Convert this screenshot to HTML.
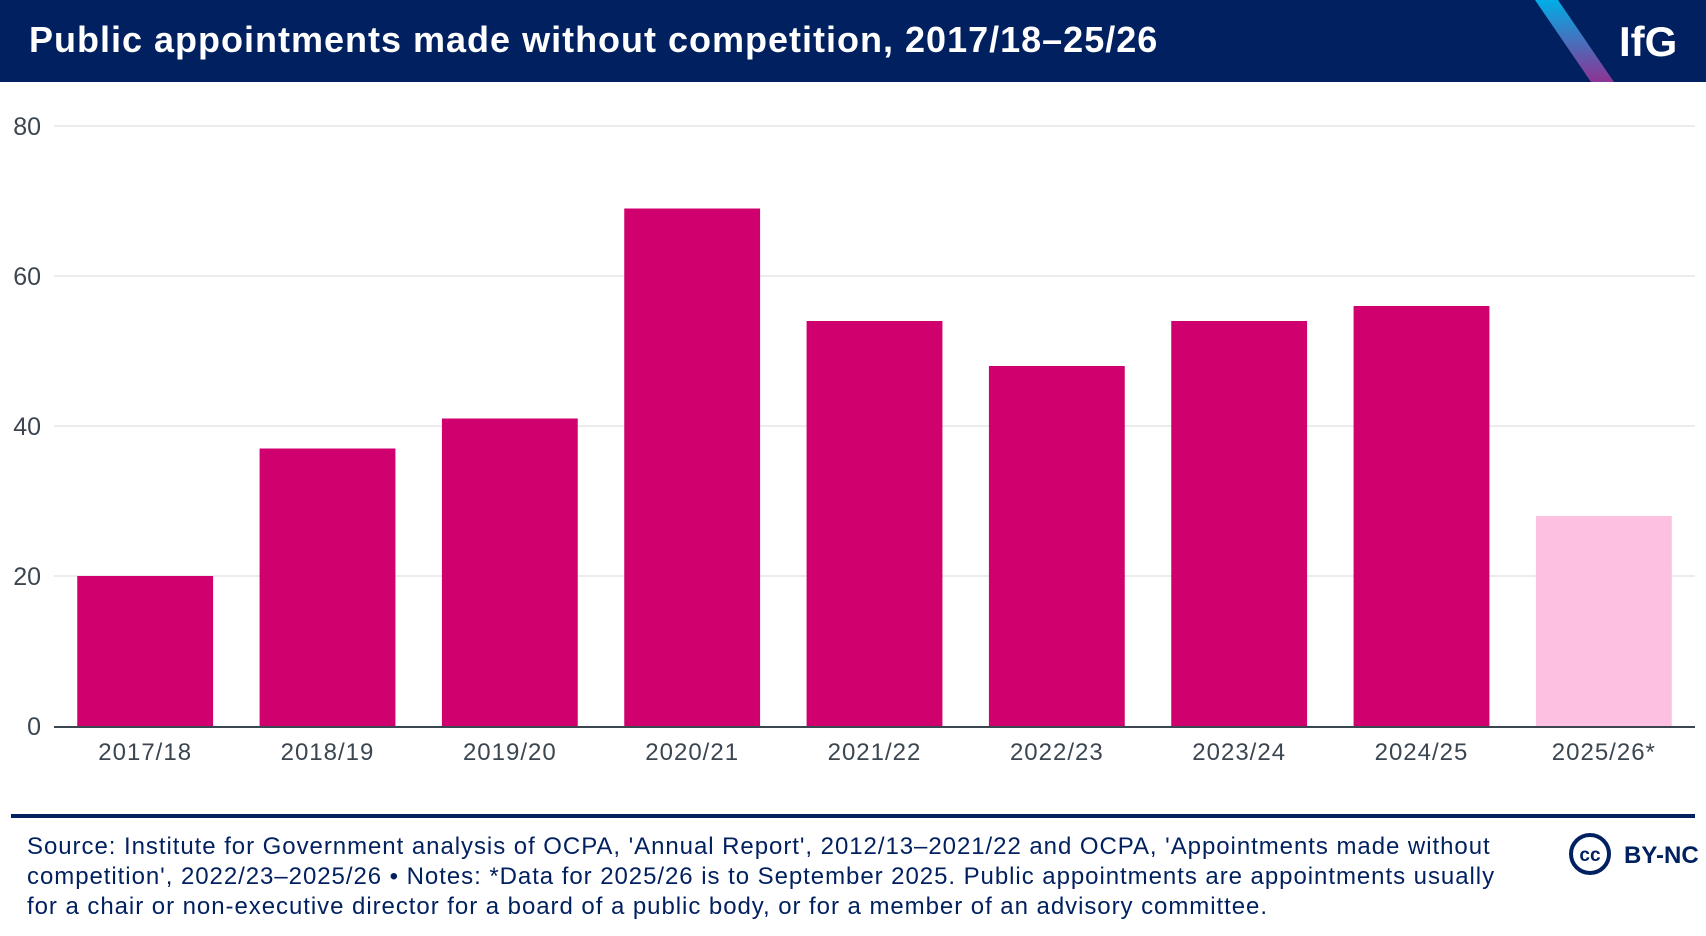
<!DOCTYPE html>
<html><head><meta charset="utf-8"><style>
html,body{margin:0;padding:0;background:#fff;}
body{width:1706px;height:936px;position:relative;overflow:hidden;font-family:"Liberation Sans",sans-serif;}
#header{position:absolute;left:0;top:0;width:1706px;height:82px;background:#00205f;overflow:hidden;}
#title{position:absolute;left:29px;top:19px;color:#fff;font-weight:bold;font-size:36px;white-space:nowrap;letter-spacing:1px;}
#logo{position:absolute;left:1619px;top:18px;color:#fff;font-weight:bold;font-size:42px;}
#footer{position:absolute;left:27px;top:832px;width:1560px;color:#00205f;font-size:24px;line-height:30px;white-space:nowrap;letter-spacing:0.95px;}
#rule{position:absolute;left:11px;top:814px;width:1684px;height:4px;background:#00205f;}
#cc{position:absolute;left:1568px;top:832px;}
</style></head><body>
<div id="header">
<svg width="1706" height="82" style="position:absolute;left:0;top:0">
<defs><linearGradient id="g" x1="0" y1="0" x2="0" y2="1"><stop offset="0" stop-color="#00aee6"/><stop offset="1" stop-color="#8e3394"/></linearGradient></defs>
<polygon points="1535,0 1558,0 1614,82 1591,82" fill="url(#g)"/>
</svg>
<div id="title">Public appointments made without competition, 2017/18–25/26</div>
<div id="logo">IfG</div>
</div>
<svg id="chart" width="1706" height="800" style="position:absolute;left:0;top:0"></svg>
<div id="rule"></div>
<div id="footer">Source: Institute for Government analysis of OCPA, 'Annual Report', 2012/13–2021/22 and OCPA, 'Appointments made without<br>competition', 2022/23–2025/26 • Notes: *Data for 2025/26 is to September 2025. Public appointments are appointments usually<br>for a chair or non-executive director for a board of a public body, or for a member of an advisory committee.</div>
<div id="cc">
<svg width="140" height="46"><circle cx="22" cy="22" r="19" fill="none" stroke="#00205f" stroke-width="4"/>
<text x="22" y="29" text-anchor="middle" font-family="Liberation Sans" font-weight="bold" font-size="19" fill="#00205f">cc</text>
<text x="56" y="31" font-family="Liberation Sans" font-weight="bold" font-size="24" fill="#00205f">BY-NC</text></svg>
</div>
<script>
const categories=["2017/18","2018/19","2019/20","2020/21","2021/22","2022/23","2023/24","2024/25","2025/26*"];
const values=[20,37,41,69,54,48,54,56,28];
const provisional=[false,false,false,false,false,false,false,false,true];
const yTicks=[0,20,40,60,80];
const NS="http://www.w3.org/2000/svg";
const svg=document.getElementById('chart');
const x0=54,x1=1695,y0=726,yTop=126,yMax=80;
const band=(x1-x0)/categories.length,barW=band*0.745;
const y=v=>y0-(v/yMax)*(y0-yTop);
const xc=i=>x0+band*(i+0.5);
function mk(t,a){const e=document.createElementNS(NS,t);for(const k in a)e.setAttribute(k,a[k]);svg.appendChild(e);return e;}
yTicks.forEach(t=>{
 if(t>0){const g=mk('line',{x1:x0,x2:x1,y1:y(t),y2:y(t),stroke:'#ececec','stroke-width':2});
 
 }
 const l=mk('text',{x:41,y:y(t)+9,'text-anchor':'end','font-size':25,fill:'#3c4650','font-family':'Liberation Sans'});
 l.textContent=t;
 
 
});
values.forEach((v,i)=>{
 const r=mk('rect',{x:xc(i)-barW/2,y:y(v),width:barW,height:y0-y(v),fill:provisional[i]?'#fdc0e0':'#d0006f'});
 
 
 const l=mk('text',{x:xc(i),y:760,'text-anchor':'middle','font-size':24,fill:'#3c4650','font-family':'Liberation Sans','letter-spacing':1});
 l.textContent=categories[i];
 
 
});
const ax=mk('line',{x1:x0,x2:x1,y1:y0+1,y2:y0+1,stroke:'#3c4650','stroke-width':2});


</script>
</body></html>
